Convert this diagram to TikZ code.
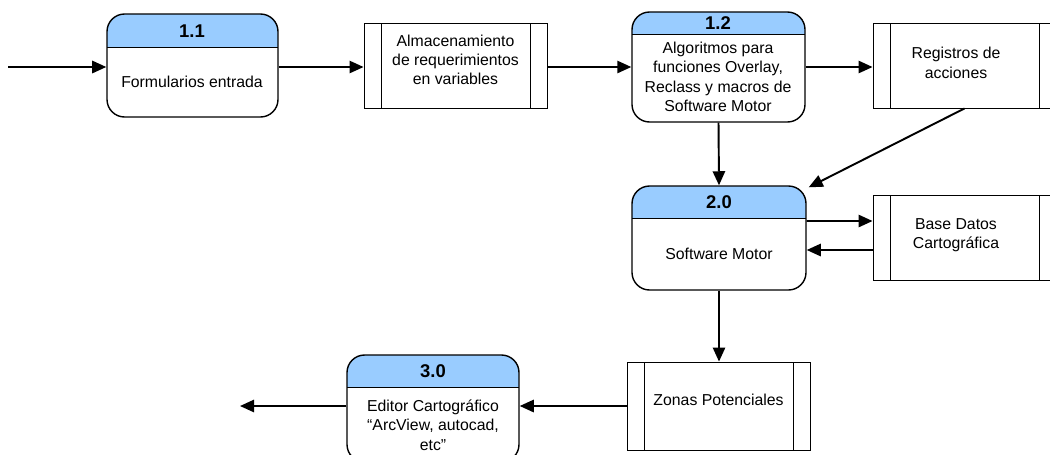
\documentclass[tikz,border=0pt]{standalone}
\usepackage{fontspec}
\setmainfont{Liberation Sans}
\usetikzlibrary{positioning, fit, calc, arrows.meta}
\definecolor{hdrblue}{RGB}{153,204,255}
\tikzset{proc/.style={draw,line width=0.8pt,rounded corners=10pt,inner sep=0pt,fill=white,
        path picture={\fill[hdrblue,sharp corners] (path picture bounding box.north west) rectangle
            ([yshift=-#1*0.02cm]path picture bounding box.north east);
            \draw[line width=0.5pt,sharp corners] ([yshift=-#1*0.02cm]path picture bounding box.north west) --
            ([yshift=-#1*0.02cm]path picture bounding box.north east);}},
    store/.style={draw,line width=0.5pt,inner sep=0pt,align=center,font=\fontsize{9}{11}\selectfont,
        path picture={\draw[line width=0.5pt] ([xshift=17*0.02cm]path picture bounding box.north west) --
            ([xshift=17*0.02cm]path picture bounding box.south west);
            \draw[line width=0.5pt] ([xshift=-17*0.02cm]path picture bounding box.north east) --
            ([xshift=-17*0.02cm]path picture bounding box.south east);}},
    num/.style={font=\fontsize{10.5}{12}\selectfont\bfseries},
    txt/.style={align=center,font=\fontsize{9}{11}\selectfont},
    flow/.style={draw,line width=1.1pt,-{Triangle[length=8pt,width=7pt]}}}
\begin{document}
\begin{tikzpicture}[x=0.02cm,y=-0.02cm]
    \useasboundingbox (0,0) rectangle (1050,454);
    % procesos
    \node[proc=33, fit={(107,14) (278,117)}] (p11) {};
    \node[proc=22, fit={(632,12) (805,122)}] (p12) {};
    \node[proc=32, fit={(632,186) (806,290)}] (p20) {};
    \node[proc=32, fit={(347,355) (519,462)}] (p30) {};
    \node[num] (n11) at (192,31) {1.1};
    \node[num] (n12) at (718,23) {1.2};
    \node[num] (n20) at (719,202) {2.0};
    \node[num] (n30) at (433,371) {3.0};
    \node[txt] (t11) at (192,82) {Formularios entrada};
    \node[txt] (t12) at (718,77) {Algoritmos para\\funciones Overlay,\\Reclass y macros de\\Software Motor};
    \node[txt] (t20) at (719,254) {Software Motor};
    \node[txt] (t30) at (433,425) {Editor Cartográfico\\``ArcView, autocad,\\etc''};
    % almacenes
    \node[store, fit={(364,23) (547,108)}] (alm) {Almacenamiento\\de requerimientos\\en variables};
    \node[store, fit={(873,23) (1056,108)}] (reg) {};
    \node[txt] (treg) at (956,63) {Registros de\\acciones};
    \node[store, fit={(873,195) (1056,280)}] (bd) {};
    \node[txt] (tbd) at (956,235) {Base Datos\\Cartográfica};
    \node[store, fit={(627,362) (810,450)}] (zon) {Zonas Potenciales};
    \coordinate (in) at (8,67);
    \coordinate (out) at (240,407);
    % flujos
    \path[flow] (in) -- (in -| p11.west);
    \path[flow] (in -| p11.east) -- (in -| alm.west);
    \path[flow] (in -| alm.east) -- (in -| p12.west);
    \path[flow] (in -| p12.east) -- (in -| reg.west);
    \path[flow] (p12.south) -- (p20.north);
    \path[flow] (reg.south) -- ([xshift=2*0.02cm,yshift=-2*0.02cm]p20.north east);
    \path[flow] ($(p20.east)+(0,-17)$) -- ($(bd.west)+(0,-16.5)$);
    \path[flow] ($(bd.west)+(0,12.5)$) -- ($(p20.east)+(0,12)$);
    \path[flow] (p20.south) -- (p20.south |- zon.north);
    \path[flow] (zon.west) -- (zon.west -| p30.east);
    \path[flow] (zon.west -| p30.west) -- (zon.west -| out);
\end{tikzpicture}
\end{document}
